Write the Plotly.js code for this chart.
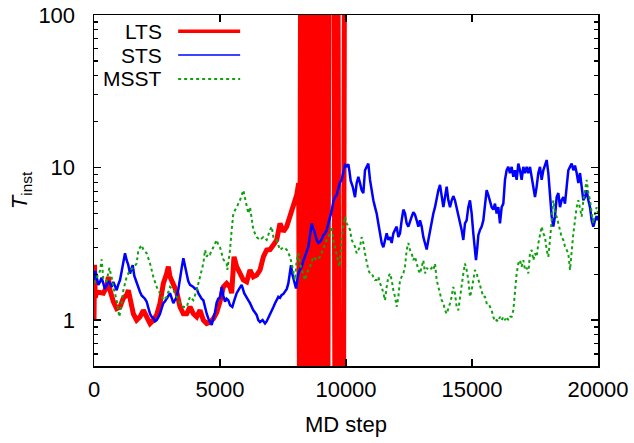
<!DOCTYPE html>
<html>
<head>
<meta charset="utf-8">
<script src="https://cdn.plot.ly/plotly-3.0.1.min.js"></script>
<style>html,body{margin:0;padding:0;background:#fff;}#chart{width:634px;height:443px;}</style>
</head>
<body>
<div id="chart"></div>
<script>
// ---- Data (MD step vs T_inst) ----
const seriesNames = ["LTS", "STS", "MSST"];
const xTickVals = [0, 5000, 10000, 15000, 20000];
const xTickText = ["0", "5000", "10000", "15000", "20000"];
const yTickVals = [1, 10, 100];
const yTickText = ["1", "10", "100"];
const yMinorVals = [0.5, 0.6, 0.7, 0.8, 0.9, 2, 3, 4, 5, 6, 7, 8, 9, 20, 30, 40, 50, 60, 70, 80, 90];

// LTS: smooth part, then the burst where T_inst swings beyond the plotted range
const ltsSteps = [0, 20, 50, 106, 238, 370, 503, 569, 635, 767, 900, 1032, 1164, 1296, 1363, 1429, 1561, 1693, 1826, 1958, 2090, 2223, 2355, 2487, 2620, 2752, 2884, 2950, 3016, 3149, 3281, 3413, 3546, 3678, 3810, 3943, 4075, 4207, 4339, 4472, 4604, 4736, 4869, 5000, 5132, 5264, 5397, 5463, 5556, 5661, 5794, 5926, 6058, 6191, 6323, 6455, 6588, 6720, 6852, 6984, 7117, 7249, 7381, 7514, 7646, 7778, 7910, 8043, 8122,
  8160, 8200, 8240, 8280, 8320, 8360, 8400, 8440, 8480, 8520, 8560, 8600, 8640, 8680, 8720, 8760, 8800, 8840, 8880, 8920, 8960, 9000, 9040, 9080, 9120, 9160, 9200, 9240, 9280, 9320, 9520, 9560, 9600, 9640, 9680, 9720, 9900, 9940];
const ltsValues = [1.0, 2.3, 1.4, 1.53, 1.5, 1.5, 1.65, 1.92, 1.57, 1.32, 1.19, 1.22, 1.39, 1.46, 1.57, 1.35, 1.10, 1.0, 1.05, 1.16, 1.05, 0.95, 1.0, 1.08, 1.29, 1.74, 2.02, 2.24, 1.92, 1.74, 1.53, 1.22, 1.10, 1.10, 1.22, 1.10, 1.05, 1.16, 1.0, 0.95, 0.97, 1.02, 1.12, 1.32, 1.65, 1.74, 1.65, 1.5, 2.6, 2.24, 2.02, 1.83, 1.78, 2.13, 1.92, 1.97, 2.13, 2.6, 2.88, 2.9, 3.1, 3.35, 4.3, 3.8, 4.1, 4.9, 5.8, 6.6, 7.9,
  0.2, 300, 0.2, 300, 0.2, 300, 0.2, 300, 0.2, 300, 0.2, 300, 0.2, 300, 0.2, 300, 0.2, 300, 0.2, 300, 0.2, 300, 0.2, 300, 0.2, 300, 0.2, 300, 0.2, 300, 300, 0.2, 300, 0.2, 300, 0.2, 0.2, 300];

const stsSteps = [0, 50, 106, 170, 238, 300, 370, 430, 503, 570, 635, 700, 767, 900, 960, 1032, 1100, 1164, 1230, 1296, 1360, 1429, 1535, 1600, 1693, 1760, 1826, 1890, 1958, 2020, 2090, 2160, 2223, 2290, 2355, 2420, 2487, 2550, 2620, 2690, 2752, 2820, 2884, 2950, 3016, 3080, 3149, 3210, 3281, 3350, 3413, 3480, 3546, 3610, 3678, 3740, 3810, 3880, 3943, 4010, 4075, 4140, 4207, 4270, 4339, 4400, 4472, 4540, 4604, 4670, 4736, 4800, 4868, 4930, 5000, 5066, 5130, 5198, 5260, 5331, 5400, 5489, 5570, 5661, 5760, 5860, 5960, 6058, 6120, 6191, 6260, 6323, 6390, 6455, 6520, 6588, 6690, 6786, 6850, 6918, 6980, 7051, 7120, 7183, 7250, 7315, 7380, 7447, 7510, 7580, 7650, 7712, 7818, 7870, 7911, 7960, 8017, 8060, 8109, 8180, 8241, 8310, 8374, 8440, 8506, 8570, 8638, 8690, 8731, 8790, 8837, 8900, 8969, 9040, 9101, 9170, 9234, 9300, 9366, 9430, 9498, 9560, 9630, 9696, 9760, 9828, 9894, 9960, 10030, 10093, 10132, 10185, 10265, 10357, 10423, 10490, 10556, 10622, 10688, 10754, 10820, 10886, 10953, 11019, 11085, 11151, 11217, 11283, 11350, 11416, 11482, 11548, 11614, 11680, 11747, 11813, 11879, 11945, 12011, 12077, 12143, 12209, 12276, 12342, 12408, 12474, 12540, 12606, 12673, 12739, 12805, 12871, 12937, 13003, 13069, 13135, 13202, 13268, 13334, 13400, 13466, 13532, 13598, 13665, 13731, 13797, 13863, 13929, 13995, 14062, 14128, 14194, 14258, 14324, 14391, 14457, 14523, 14589, 14655, 14721, 14787, 14854, 14920, 14986, 15052, 15118, 15158, 15211, 15251, 15317, 15383, 15449, 15515, 15581, 15647, 15714, 15780, 15846, 15912, 15978, 16044, 16110, 16177, 16243, 16309, 16375, 16441, 16507, 16574, 16640, 16706, 16772, 16838, 16904, 16970, 17037, 17103, 17169, 17235, 17301, 17367, 17434, 17500, 17566, 17632, 17698, 17764, 17830, 17897, 17963, 18029, 18095, 18161, 18227, 18294, 18360, 18426, 18492, 18558, 18624, 18690, 18757, 18823, 18889, 18955, 19021, 19087, 19154, 19220, 19286, 19352, 19418, 19484, 19550, 19617, 19683, 19749, 19815, 19881, 19947, 20000];
const stsValues = [1.83, 2.1, 1.92, 1.7, 1.78, 1.9, 1.74, 1.6, 1.70, 1.8, 1.74, 1.65, 1.78, 1.57, 1.7, 1.83, 2.1, 2.47, 2.74, 2.47, 2.3, 2.02, 2.29, 1.95, 1.74, 1.6, 1.53, 1.45, 1.42, 1.38, 1.32, 1.2, 1.10, 1.05, 1.03, 0.98, 1.00, 1.04, 1.10, 1.2, 1.29, 1.33, 1.39, 1.46, 1.50, 1.4, 1.29, 1.35, 1.42, 1.6, 1.92, 2.2, 2.54, 2.25, 2.02, 1.8, 1.70, 1.68, 1.65, 1.6, 1.61, 1.5, 1.42, 1.38, 1.35, 1.2, 1.10, 1.02, 0.97, 0.93, 1.03, 1.12, 1.3, 1.38, 1.4, 1.65, 1.45, 1.32, 1.38, 1.35, 1.25, 1.22, 1.35, 1.50, 1.6, 1.70, 1.5, 1.39, 1.35, 1.29, 1.2, 1.16, 1.12, 1.08, 1.0, 0.97, 1.0, 0.95, 0.98, 1.03, 1.1, 1.16, 1.22, 1.29, 1.36, 1.42, 1.4, 1.46, 1.48, 1.53, 1.6, 1.74, 2.29, 2.0, 1.83, 1.75, 1.61, 1.8, 2.02, 2.15, 2.24, 2.45, 2.60, 2.8, 3.03, 3.6, 4.30, 4.0, 3.89, 3.6, 3.35, 3.2, 3.26, 3.4, 3.61, 3.7, 3.89, 4.3, 4.7, 5.2, 6.0, 6.4, 6.6, 7.3, 8.0, 8.3, 9.5, 10.4, 10.2, 10.5, 9.6, 8.2, 7.5, 6.4, 7.9, 8.7, 7.9, 7.1, 6.8, 9.6, 10.1, 10.6, 8.3, 6.8, 6.1, 5.5, 5.0, 4.3, 3.7, 3.2, 3.0, 3.35, 3.7, 3.35, 3.5, 3.2, 3.7, 3.9, 4.1, 3.5, 3.7, 4.5, 5.3, 5.0, 4.3, 4.1, 4.5, 4.76, 5.1, 4.9, 4.5, 4.1, 4.5, 4.1, 3.5, 3.2, 2.9, 3.35, 3.9, 4.5, 5.0, 5.5, 6.4, 7.1, 7.7, 6.4, 5.5, 6.4, 7.5, 6.1, 5.5, 6.1, 6.5, 6.1, 5.5, 4.8, 4.3, 3.9, 3.35, 4.3, 4.5, 5.5, 6.1, 5.0, 3.7, 3.0, 2.47, 3.0, 3.6, 3.9, 4.1, 4.5, 5.5, 7.1, 6.6, 6.1, 5.5, 5.3, 5.8, 5.0, 5.5, 4.3, 5.5, 5.8, 8.3, 9.6, 10.1, 9.2, 10.1, 8.7, 9.6, 8.3, 10.6, 9.6, 8.3, 10.1, 9.2, 10.1, 9.2, 10.1, 8.7, 7.5, 6.4, 7.5, 9.2, 10.1, 8.3, 9.6, 10.6, 11.2, 9.2, 6.4, 4.8, 4.1, 4.8, 6.4, 6.8, 5.5, 6.1, 6.4, 5.8, 7.5, 9.6, 10.1, 10.6, 9.6, 10.3, 9.2, 7.9, 9.2, 7.1, 6.1, 6.4, 7.1, 6.1, 5.5, 4.5, 4.1, 4.5, 4.8, 4.5];

const msstSteps = [0, 106, 238, 304, 370, 503, 609, 701, 767, 900, 1005, 1098, 1164, 1296, 1429, 1561, 1693, 1760, 1890, 1958, 2090, 2223, 2355, 2487, 2620, 2752, 2884, 3016, 3149, 3281, 3413, 3546, 3678, 3810, 3943, 4075, 4207, 4339, 4406, 4472, 4538, 4603, 4735, 4868, 4934, 5000, 5132, 5264, 5291, 5397, 5463, 5529, 5661, 5794, 5926, 5992, 6058, 6124, 6191, 6257, 6323, 6455, 6588, 6720, 6852, 6984, 7051, 7117, 7249, 7381, 7514, 7646, 7778, 7845, 7911, 7977, 8043, 8109, 8175, 8307, 8374, 8440, 8572, 8704, 8837, 8969, 9101, 9234, 9365, 9431, 9497, 9563, 9630, 9696, 9735, 9788, 9828, 9960, 10027, 10093, 10159, 10225, 10291, 10357, 10423, 10490, 10556, 10622, 10688, 10754, 10820, 10886, 10953, 11019, 11085, 11151, 11217, 11283, 11350, 11416, 11482, 11548, 11614, 11680, 11747, 11813, 11879, 11945, 12011, 12077, 12143, 12209, 12276, 12342, 12408, 12474, 12540, 12606, 12673, 12739, 12805, 12871, 12937, 13003, 13069, 13135, 13202, 13268, 13334, 13400, 13466, 13532, 13598, 13665, 13731, 13797, 13863, 13929, 13995, 14062, 14128, 14192, 14258, 14324, 14391, 14457, 14523, 14589, 14655, 14721, 14787, 14854, 14920, 14986, 15052, 15118, 15184, 15251, 15317, 15383, 15449, 15515, 15581, 15647, 15714, 15780, 15846, 15912, 15978, 16044, 16110, 16177, 16243, 16309, 16375, 16441, 16507, 16574, 16640, 16706, 16772, 16838, 16904, 16970, 17037, 17103, 17169, 17235, 17301, 17367, 17434, 17500, 17566, 17632, 17698, 17764, 17830, 17897, 17963, 18029, 18095, 18161, 18227, 18294, 18360, 18426, 18492, 18558, 18624, 18690, 18757, 18823, 18889, 18955, 19021, 19087, 19154, 19220, 19286, 19352, 19418, 19484, 19550, 19617, 19683, 19749, 19815, 19881, 19947, 20000];
const msstValues = [1.74, 1.9, 2.1, 2.5, 1.85, 1.8, 2.2, 1.9, 1.65, 1.35, 1.05, 1.29, 1.57, 1.92, 2.13, 2.2, 2.35, 2.88, 3.1, 2.9, 2.74, 2.35, 1.92, 1.65, 1.50, 1.35, 1.42, 1.65, 1.57, 1.42, 1.29, 1.22, 1.22, 1.42, 1.35, 1.57, 1.92, 2.35, 2.88, 2.6, 2.74, 2.7, 3.0, 3.35, 3.1, 3.0, 2.5, 2.35, 2.13, 2.88, 3.9, 5.0, 5.5, 6.1, 7.1, 6.4, 5.5, 5.0, 5.5, 4.76, 3.9, 3.5, 3.35, 3.5, 3.35, 3.9, 4.1, 3.5, 3.35, 2.88, 3.0, 2.9, 2.6, 2.35, 2.0, 1.83, 2.47, 2.74, 2.35, 2.02, 1.83, 2.02, 2.24, 2.6, 2.47, 2.6, 3.0, 3.35, 3.7, 4.1, 3.35, 3.0, 2.74, 2.47, 2.24, 2.74, 3.5, 4.76, 4.3, 4.1, 3.9, 3.35, 3.2, 3.03, 2.74, 2.9, 3.03, 3.5, 3.2, 2.74, 2.35, 2.13, 2.02, 2.02, 1.92, 1.83, 1.83, 1.92, 1.74, 1.65, 1.50, 1.35, 1.65, 1.92, 2.02, 1.83, 1.57, 1.42, 1.22, 1.42, 1.83, 1.92, 2.02, 2.24, 2.88, 3.2, 2.88, 2.74, 2.47, 2.6, 2.35, 2.13, 2.02, 2.24, 2.47, 2.02, 2.2, 2.13, 2.13, 2.2, 2.13, 2.35, 1.83, 1.65, 1.5, 1.35, 1.29, 1.16, 1.10, 1.22, 1.29, 1.42, 1.65, 1.5, 1.22, 1.16, 1.42, 1.74, 2.02, 2.35, 2.13, 1.83, 1.42, 1.57, 1.83, 2.13, 2.02, 1.83, 1.65, 1.5, 1.42, 1.42, 1.29, 1.29, 1.22, 1.16, 1.05, 0.98, 1.0, 0.98, 1.05, 1.0, 1.05, 1.0, 1.05, 1.0, 1.05, 1.05, 1.16, 1.65, 2.02, 2.35, 2.47, 2.24, 2.47, 2.13, 2.2, 2.02, 2.74, 2.88, 2.47, 2.74, 2.6, 3.18, 3.7, 4.1, 3.7, 3.5, 2.88, 2.6, 3.35, 4.76, 6.1, 5.0, 4.76, 4.3, 3.9, 3.5, 3.35, 3.03, 2.88, 2.74, 2.13, 3.03, 3.7, 4.5, 5.5, 6.1, 5.5, 4.76, 6.1, 7.1, 8.3, 6.8, 6.1, 5.0, 4.3, 5.0, 5.5, 5.0];

// ---- Styles ----
const colors = {LTS: "#ff0000", STS: "#0000ff", MSST: "#10a010"};
const font = {family: "Liberation Sans, Arial, Helvetica, sans-serif", size: 22, color: "#000"};
const keyFont = {family: "Liberation Sans, Arial, Helvetica, sans-serif", size: 21, color: "#000"};

const traces = [
  {x: ltsSteps, y: ltsValues, name: seriesNames[0], mode: "lines", line: {color: colors.LTS, width: 5}},
  {x: stsSteps, y: stsValues, name: seriesNames[1], mode: "lines", line: {color: colors.STS, width: 2.5}},
  {x: msstSteps, y: msstValues, name: seriesNames[2], mode: "lines", line: {color: colors.MSST, width: 2, dash: "dot"}}
];

// gnuplot-style key: right-aligned text followed by a line sample
const keyY = [0.954, 0.886, 0.818];
const keyStyles = [
  {color: colors.LTS, width: 3.5},
  {color: colors.STS, width: 1.5},
  {color: colors.MSST, width: 2, dash: "dot"}
];
const annotations = seriesNames.map((n, i) => ({
  xref: "paper", yref: "paper", x: 0.137, y: keyY[i], text: n, showarrow: false,
  xanchor: "right", yanchor: "middle", font: keyFont, borderpad: 0
}));
const shapes = seriesNames.map((n, i) => ({
  type: "line", xref: "paper", yref: "paper", x0: 0.167, x1: 0.290, y0: keyY[i], y1: keyY[i],
  line: keyStyles[i]
}));

const layout = {
  width: 634, height: 443,
  margin: {l: 94, r: 36, t: 15, b: 77},
  paper_bgcolor: "#fff", plot_bgcolor: "#fff",
  showlegend: false,
  font: font,
  xaxis: {
    range: [0, 20000], tickvals: xTickVals, ticktext: xTickText,
    ticks: "inside", ticklen: 7, tickwidth: 1.3, tickcolor: "#000",
    showline: true, linecolor: "#000", linewidth: 1.5, mirror: "allticks",
    showgrid: false, zeroline: false, ticklabelstandoff: 3,
    title: {text: "MD step", font: font, standoff: 15}, automargin: false
  },
  yaxis: {
    type: "log", range: [Math.log10(0.5), 2], tickvals: yTickVals, ticktext: yTickText,
    ticks: "inside", ticklen: 7, tickwidth: 1.3, tickcolor: "#000",
    minor: {tickmode: "array", tickvals: yMinorVals, ticks: "inside", ticklen: 4, tickwidth: 1.2, tickcolor: "#000", showgrid: false},
    showline: true, linecolor: "#000", linewidth: 1.5, mirror: "allticks",
    showgrid: false, zeroline: false, ticklabelstandoff: 13,
    title: {text: "<i>T</i><sub>inst</sub>", font: font, standoff: 4}, automargin: false
  },
  annotations: annotations,
  shapes: shapes
};

Plotly.newPlot("chart", traces, layout, {staticPlot: true, displayModeBar: false});
</script>
</body>
</html>
